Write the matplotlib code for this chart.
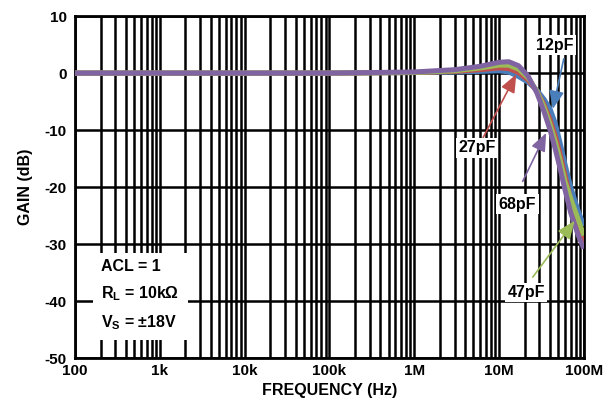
import numpy as np
import matplotlib.pyplot as plt
from matplotlib.ticker import FixedLocator, LogLocator, NullFormatter

plt.rcParams['font.family'] = ['Liberation Sans', 'DejaVu Sans']
plt.rcParams['axes.unicode_minus'] = False
plt.rcParams['mathtext.fontset'] = 'custom'
plt.rcParams['mathtext.rm'] = 'Liberation Sans:bold'
plt.rcParams['mathtext.bf'] = 'Liberation Sans:bold'

# frequency points (Hz) and gain (dB) per load capacitance
freq = [100, 1e3, 1e4, 1e5, 1e6, 3e6, 6e6, 1e7, 1.3e7, 1.7e7, 2.2e7, 2.8e7,
        3.4e7, 4e7, 4.6e7, 5.2e7, 6e7, 7e7, 8.5e7, 1e8]
gain_12pF = [0, 0, 0, 0, 0.1, 0.2, 0.3, 0.4, 0.2, -0.6, -1.6, -3.0,
             -4.6, -6.3, -8.8, -12.0, -16.0, -20.0, -24.0, -26.8]
gain_27pF = [0, 0, 0, 0, 0.1, 0.3, 0.6, 0.9, 0.8, 0.1, -1.2, -3.2,
             -5.6, -8.2, -11.0, -14.0, -18.0, -22.2, -26.8, -30.0]
gain_47pF = [0, 0, 0, 0, 0.1, 0.4, 0.9, 1.4, 1.4, 0.7, -0.8, -3.2,
             -6.0, -9.0, -12.0, -15.0, -19.0, -22.0, -25.5, -28.5]
gain_68pF = [0, 0, 0, 0, 0.2, 0.6, 1.2, 1.9, 2.0, 1.3, -0.5, -3.5,
             -6.8, -10.0, -13.3, -16.5, -20.5, -24.5, -28.3, -30.8]

labels = ['12pF', '27pF', '47pF', '68pF']
colors = ['#4a7ebb', '#c0504d', '#9bbb59', '#8064a2']

fig = plt.figure(figsize=(6.05, 4.13), dpi=100)
ax = fig.add_axes([0.124, 0.133, 0.841, 0.828])

for g, c in zip([gain_12pF, gain_27pF, gain_47pF, gain_68pF], colors):
    ax.plot(freq, g, color=c, lw=3.6, solid_capstyle='butt', zorder=3)

ax.set_xscale('log')
ax.set_xlim(100, 1e8)
ax.set_ylim(-50, 10)
ax.xaxis.set_major_locator(FixedLocator([1e2, 1e3, 1e4, 1e5, 1e6, 1e7, 1e8]))
ax.set_xticklabels(['100', '1k', '10k', '100k', '1M', '10M', '100M'])
ax.xaxis.set_minor_locator(LogLocator(base=10, subs=np.arange(2, 10)))
ax.xaxis.set_minor_formatter(NullFormatter())
ax.set_yticks(np.arange(-50, 11, 10))
ax.grid(True, which='both', axis='x', color='black', lw=1.8)
ax.grid(True, which='major', axis='y', color='black', lw=1.8)
ax.tick_params(which='both', length=0, labelsize=11)
ax.tick_params(axis='x', pad=4)
ax.tick_params(axis='y', pad=6)
for t in ax.get_xticklabels() + ax.get_yticklabels():
    t.set_fontweight('bold')
for s in ax.spines.values():
    s.set_linewidth(2)

ax.set_xlabel('FREQUENCY (Hz)', fontsize=11.5, fontweight='bold', labelpad=4)
ax.set_ylabel('GAIN (dB)', fontsize=11.5, fontweight='bold', labelpad=8)

# conditions box
ax.text(0.052, 0.075, 'ACL = 1\n$\\mathbf{R_L}$ = 10k$\\Omega$\n$\\mathbf{V_S}$ = ±18V',
        transform=ax.transAxes, fontsize=11.5, fontweight='bold',
        linespacing=1.75, va='bottom', ha='left', zorder=5,
        bbox=dict(boxstyle='square,pad=0.5', fc='white', ec='none'))

# curve labels with arrows
notes = [('12pF', (4.3e7, -6.3), (4.6e7, 4.9), (5.8e7, 2.5), colors[0]),
         ('27pF', (1.6e7, -0.2), (5.5e6, -13.1), (6.5e6, -11.3), colors[1]),
         ('68pF', (3.6e7, -10.5), (1.65e7, -23.0), (1.9e7, -19.0), colors[3]),
         ('47pF', (7.8e7, -25.9), (2.1e7, -38.5), (2.5e7, -35.8), colors[2])]
for txt, tip, pos, tail, c in notes:
    ax.annotate('', xy=tip, xytext=tail,
                arrowprops=dict(arrowstyle='-|>,head_length=1.1,head_width=0.45',
                                color=c, lw=1.2, shrinkA=0, shrinkB=0), zorder=6)
    ax.text(pos[0], pos[1], txt, fontsize=11.5, fontweight='bold', ha='center',
            va='center', zorder=7,
            bbox=dict(boxstyle='square,pad=0.15', fc='white', ec='none'))

fig.savefig('out.png', dpi=100)
